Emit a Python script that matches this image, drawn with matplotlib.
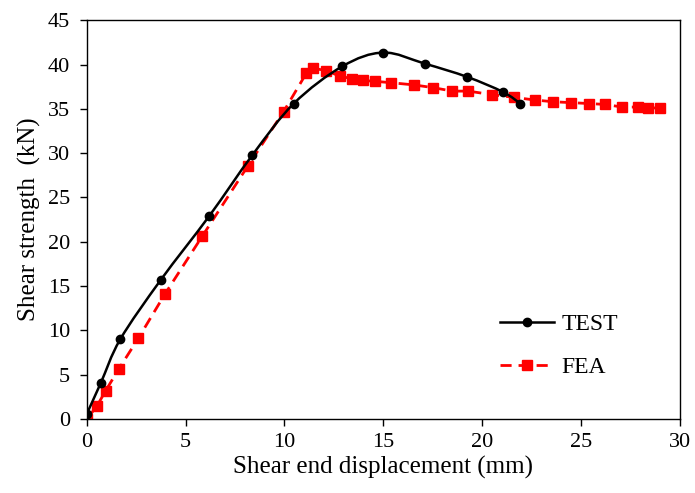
import numpy as np
import matplotlib.pyplot as plt
from matplotlib.path import Path
from matplotlib.patches import PathPatch
from matplotlib.lines import Line2D

plt.rcParams['font.family'] = ['Liberation Serif', 'DejaVu Serif']

# test results
test_x = [0.0, 0.71, 1.69, 3.74, 6.19, 8.38, 10.47, 12.93, 15.0, 17.1, 19.25, 21.06, 21.93]
test_y = [0.6, 4.1, 9.0, 15.7, 22.9, 29.8, 35.6, 39.8, 41.35, 40.1, 38.6, 36.9, 35.6]

# finite element results
fea_x = [0.0, 0.52, 0.95, 1.63, 2.6, 3.95, 5.83, 8.13, 9.96, 11.1, 11.45, 12.1, 12.8,
         13.4, 13.98, 14.6, 15.4, 16.55, 17.5, 18.5, 19.3, 20.5, 21.6, 22.66, 23.6,
         24.5, 25.4, 26.2, 27.1, 27.9, 28.4, 29.0]
fea_y = [0.0, 1.5, 3.2, 5.7, 9.1, 14.1, 20.6, 28.5, 34.7, 39.0, 39.6, 39.3, 38.7,
         38.4, 38.2, 38.1, 37.95, 37.7, 37.4, 37.0, 37.0, 36.6, 36.3, 36.0, 35.8,
         35.7, 35.6, 35.5, 35.2, 35.2, 35.1, 35.1]


def smooth_path(x, y, t=1/6):
    # bezier curve through the points, like a spreadsheet "smoothed line"
    p = np.column_stack([x, y])
    verts = [p[0]]
    codes = [Path.MOVETO]
    for i in range(len(p) - 1):
        p0 = p[i - 1] if i > 0 else p[i]
        p3 = p[i + 2] if i + 2 < len(p) else p[i + 1]
        c1 = p[i] + (p[i + 1] - p0) * t
        c2 = p[i + 1] - (p3 - p[i]) * t
        verts += [c1, c2, p[i + 1]]
        codes += [Path.CURVE4] * 3
    return Path(verts, codes)


fig = plt.figure(figsize=(6.95, 4.93), dpi=100)
ax = fig.add_axes([0.125, 0.150, 0.853, 0.809])

ax.add_patch(PathPatch(smooth_path(test_x, test_y), facecolor='none',
                       edgecolor='black', lw=1.8, zorder=3))
ax.plot(test_x, test_y, ls='none', marker='o', ms=6, color='black', zorder=4)
ax.plot(fea_x, fea_y, ls=(0, (4, 2.5)), lw=2, color='#ff0000', marker='s',
        ms=7, zorder=2)

ax.set_xlim(0, 30)
ax.set_ylim(0, 45)
ax.set_xticks(range(0, 31, 5))
ax.set_yticks(range(0, 46, 5))
ax.tick_params(direction='out', length=5, width=1, labelsize=16, colors='black')
ax.tick_params(axis='y', pad=7)
ax.tick_params(axis='x', pad=5)
for s in ax.spines.values():
    s.set_linewidth(1)
    s.set_color('black')
ax.set_xlabel('Shear end displacement (mm)', fontsize=18, labelpad=3)
ax.set_ylabel('Shear strength  (kN)', fontsize=18, labelpad=5)

handles = [Line2D([], [], color='black', lw=1.8, marker='o', ms=6),
           Line2D([], [], color='#ff0000', lw=2, ls=(0, (4, 2.5)), marker='s', ms=7)]
ax.legend(handles, ['TEST', 'FEA'], loc='lower right', bbox_to_anchor=(0.932, 0.05),
          frameon=False, fontsize=17, handlelength=2.3, handletextpad=0.3,
          labelspacing=0.9)

fig.savefig('out.png', dpi=100)
